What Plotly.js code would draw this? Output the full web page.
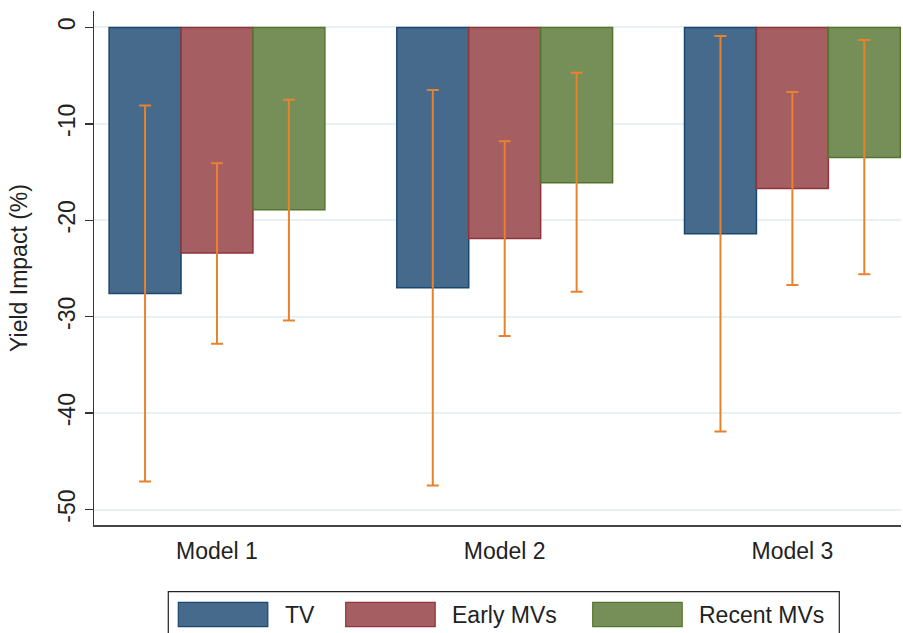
<!DOCTYPE html>
<html>
<head>
<meta charset="utf-8">
<script src="https://cdn.plot.ly/plotly-3.0.1.min.js"></script>
<style>html,body{margin:0;padding:0;background:#fff;}#chart{width:903px;height:633px;}</style>
</head>
<body>
<div id="chart"></div>
<script>
const categories = ['Model 1', 'Model 2', 'Model 3'];
const seriesNames = ['TV', 'Early MVs', 'Recent MVs'];

const tvValues = [-27.6, -27.0, -21.4];
const tvLow = [-47.1, -47.5, -41.9];
const tvHigh = [-8.1, -6.5, -0.9];

const earlyValues = [-23.4, -21.9, -16.7];
const earlyLow = [-32.8, -32.0, -26.7];
const earlyHigh = [-14.1, -11.8, -6.7];

const recentValues = [-18.9, -16.1, -13.5];
const recentLow = [-30.4, -27.4, -25.6];
const recentHigh = [-7.5, -4.7, -1.3];

const yTickValues = [0, -10, -20, -30, -40, -50];
const yTickLabels = ['0', '-10', '-20', '-30', '-40', '-50'];

const fills = ['#466a8b', '#a55e61', '#768f58'];
const borders = ['#1a476f', '#90353b', '#55752f'];
const errColor = '#e8822d';
const FONT = '"Liberation Sans", Arial, Helvetica, sans-serif';

const seriesData = [
  [tvValues, tvLow, tvHigh],
  [earlyValues, earlyLow, earlyHigh],
  [recentValues, recentLow, recentHigh]
];

const traces = seriesData.map((s, i) => ({
  type: 'bar',
  name: seriesNames[i],
  x: categories,
  y: s[0],
  marker: { color: fills[i], line: { color: borders[i], width: 1.5 } },
  error_y: {
    type: 'data',
    symmetric: false,
    array: s[2].map((h, k) => h - s[0][k]),
    arrayminus: s[0].map((v, k) => v - s[1][k]),
    color: errColor,
    thickness: 2,
    width: 6
  },
  showlegend: false,
  hoverinfo: 'x+y'
}));

// plot area in pixels
const W = 903, H = 633;
const M = { l: 94, r: 2, t: 11, b: 108 };
const PW = W - M.l - M.r, PH = H - M.t - M.b;
const px = v => (v - M.l) / PW;
const py = v => (H - M.b - v) / PH;

// custom legend (wide swatches like the original)
const shapes = [{
  type: 'rect', xref: 'paper', yref: 'paper',
  x0: px(168.3), x1: px(839.3), y0: py(645), y1: py(591.7),
  line: { color: '#222', width: 1.2 }, fillcolor: 'rgba(0,0,0,0)'
}];
const swatchX = [178.3, 345.7, 592.7];
const textX = [282.7, 450, 696.7];
const annotations = [];
seriesNames.forEach((n, i) => {
  shapes.push({
    type: 'rect', xref: 'paper', yref: 'paper',
    x0: px(swatchX[i]), x1: px(swatchX[i] + 89.5), y0: py(626.7), y1: py(602.3),
    line: { color: borders[i], width: 1.2 }, fillcolor: fills[i]
  });
  annotations.push({
    xref: 'paper', yref: 'paper', x: px(textX[i]), y: py(614.5),
    xanchor: 'left', yanchor: 'middle', showarrow: false,
    text: n, font: { family: FONT, size: 23, color: '#222' }
  });
});

const layout = {
  width: W, height: H,
  margin: M,
  paper_bgcolor: '#fff', plot_bgcolor: '#fff',
  barmode: 'group', bargap: 0.25, bargroupgap: 0,
  showlegend: false,
  font: { family: FONT, color: '#222' },
  xaxis: {
    type: 'category',
    range: [-0.4275, 2.3775],
    showline: true, linecolor: '#444', linewidth: 2,
    ticks: '', showgrid: false, zeroline: false,
    tickfont: { family: FONT, size: 23, color: '#222' },
    ticklabelstandoff: 4
  },
  yaxis: {
    range: [-51.6, 1.7],
    tickvals: yTickValues, ticktext: yTickLabels,
    tickangle: -90,
    showline: true, linecolor: '#333', linewidth: 1.5,
    ticks: 'outside', ticklen: 8, tickwidth: 1.5, tickcolor: '#333',
    showgrid: true, gridcolor: '#e8f1f2', gridwidth: 2,
    zeroline: false,
    tickfont: { family: FONT, size: 23, color: '#222' },
    title: { text: 'Yield Impact (%)', font: { family: FONT, size: 23, color: '#222' }, standoff: 20 }
  },
  shapes: shapes,
  annotations: annotations
};

Plotly.newPlot('chart', traces, layout, { displayModeBar: false, staticPlot: true });
</script>
</body>
</html>
